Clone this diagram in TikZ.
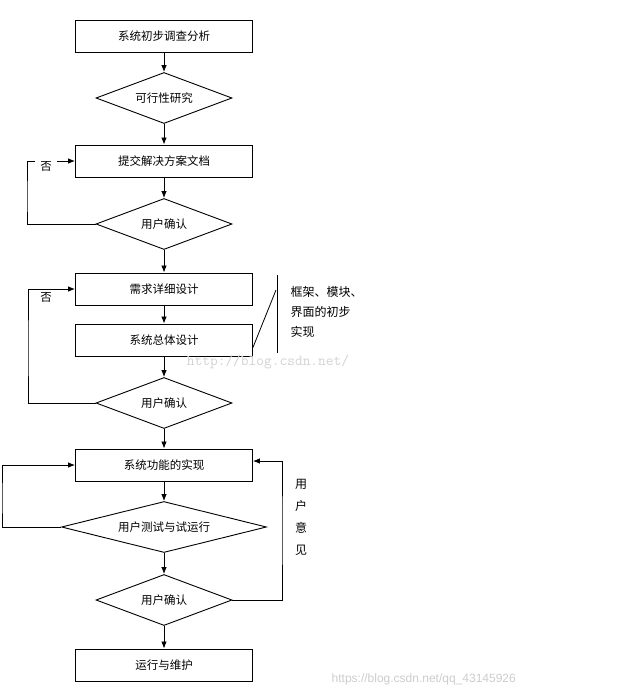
\documentclass[tikz,border=0pt]{standalone}
\usepackage{fontspec}
\setmainfont{Noto Sans CJK SC}
\newfontfamily\wmfont{Liberation Sans}
\usepackage{tikz}
\usetikzlibrary{shapes.geometric,arrows.meta}

\begin{document}
\begin{tikzpicture}[x=1pt,y=-1pt,
    box_node/.style={rectangle,draw,line width=0.9pt,minimum width=177pt,minimum height=32pt,inner sep=0pt,font=\fontsize{11.5}{13}\selectfont},
    dec_node/.style={diamond,draw,line width=0.9pt,aspect=2.67,minimum width=136pt,minimum height=51pt,inner sep=0pt,font=\fontsize{11.5}{13}\selectfont},
    no_node/.style={fill=white,inner xsep=5pt,inner ysep=1pt,font=\fontsize{11.5}{13}\selectfont},
    flow/.style={-{Latex[length=7pt,width=5.5pt]},line width=0.8pt}]

    \useasboundingbox (0,0) rectangle (640,698);

    \node[box_node] (1) at (164,36) {系统初步调查分析};
    \node[dec_node] (2) at (164,98) {可行性研究};
    \node[box_node] (3) at (164,161) {提交解决方案文档};
    \node[dec_node] (4) at (164,224) {用户确认};
    \node[box_node] (5) at (164,289) {需求详细设计};
    \node[box_node] (6) at (164,340) {系统总体设计};
    \node[dec_node] (7) at (164,403) {用户确认};
    \node[box_node] (8) at (164,465) {系统功能的实现};
    \node[dec_node, aspect=4.02, minimum width=205pt] (9) at (164,527) {用户测试与试运行};
    \node[dec_node] (10) at (164,600) {用户确认};
    \node[box_node] (11) at (164,665) {运行与维护};

    \draw[flow] (1) -- (2);
    \draw[flow] (2) -- (3);
    \draw[flow] (3) -- (4);
    \draw[flow] (4) -- (5);
    \draw[flow] (5) -- (6);
    \draw[flow] (6) -- (7);
    \draw[flow] (7) -- (8);
    \draw[flow] (8) -- (9);
    \draw[flow] (9) -- (10);
    \draw[flow] (10) -- (11);

    % loops back
    \coordinate (l1) at (27,200);
    \coordinate (l2) at (28,350);
    \coordinate (l3) at (2,500);
    \coordinate (l4) at (282,530);
    \draw[flow] (4.west) -| (l1) |- (3.west);
    \draw[flow] (7.west) -| (l2) |- (5.west);
    \draw[flow] (9.west) -| (l3) |- (8.west);
    \draw[flow] (10.east) -| (l4) |- ([yshift=4pt]8.east);
    \node[no_node] (n1) at (46,166) {否};
    \node[no_node] (n2) at (46,297) {否};
    \node[font=\fontsize{12}{22}\selectfont, align=center] (n3) at (301,517) {用\\户\\意\\见};

    % note on the design boxes
    \coordinate (b1) at (277,275);
    \coordinate (b2) at (277,353);
    \coordinate (b3) at (276,290);
    \draw[line width=0.8pt] (b1) -- (b2);
    \draw[line width=0.8pt] ([yshift=9pt]6.south east) -- (b3);
    \node[anchor=west, align=left, font=\fontsize{12}{20}\selectfont] (12) at (287,312) {框架、模块、\\界面的初步\\实现};

    % watermarks
    \node[text=gray!35, font=\fontsize{15}{15}\ttfamily] (w1) at (268,362) {http://blog.csdn.net/};
    \node[text=gray!40, anchor=east, inner sep=0pt, font=\fontsize{12}{12}\wmfont] (w2) at (516,679) {https://blog.csdn.net/qq\_43145926};
\end{tikzpicture}
\end{document}
